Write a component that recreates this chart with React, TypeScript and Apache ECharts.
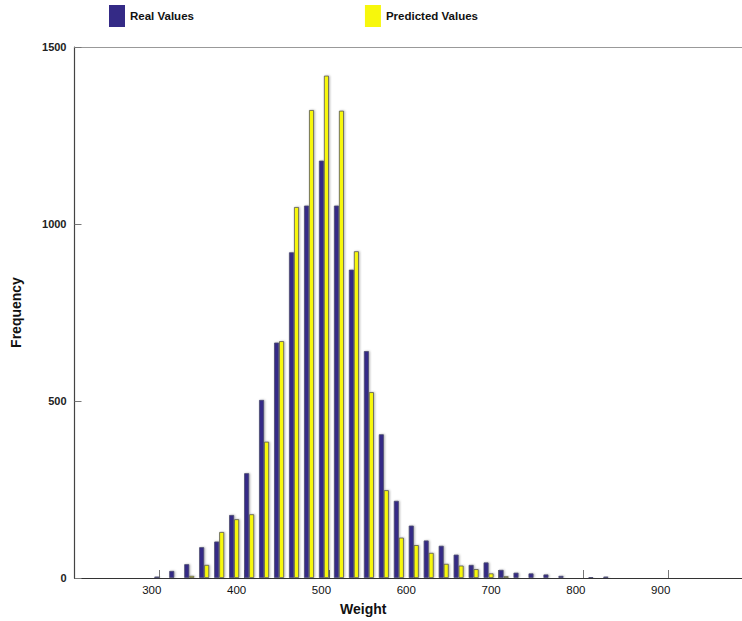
import React, { useEffect, useRef } from "react";
import * as echarts from "echarts";

// Histogram bin centres (weight) and counts per bin
const binCenters = [
  300, 317.6, 335.3, 352.9, 370.6, 388.2, 405.9, 423.5, 441.2, 458.8, 476.5, 494.1,
  511.8, 529.4, 547.1, 564.7, 582.4, 600, 617.6, 635.3, 652.9, 670.6, 688.2, 705.9,
  723.5, 741.2, 758.8, 776.5, 794.1, 811.8, 829.4, 847.1, 864.7, 882.4, 900,
];
const realCounts = [
  4, 20, 39, 87, 103, 178, 296, 503, 665, 920, 1052, 1179, 1052, 871, 641, 406, 218,
  148, 106, 91, 66, 37, 44, 23, 15, 13, 10, 6, 2, 3, 4, 1, 1, 1, 1,
];
const predictedCounts = [
  1, 2, 6, 37, 130, 166, 180, 385, 669, 1048, 1322, 1419, 1320, 923, 525, 248, 114,
  93, 71, 40, 35, 25, 13, 5, 2, 1, 1, 1, 1, 1, 0, 1, 0, 1, 1,
];
const seriesNames = ["Real Values", "Predicted Values"];
const yTicks = [0, 500, 1000, 1500];

const REAL_COLOR = "#342a86";
const PRED_COLOR = "#f7f70c";
const FONT = "'Liberation Sans', Arial, sans-serif";

export default function App() {
  const ref = useRef<HTMLDivElement>(null);

  useEffect(() => {
    document.body.style.margin = "0";
    if (!ref.current) return;
    const chart = echarts.init(ref.current, null, { renderer: "svg" });

    const barStyle = (color: string, border: string) => ({
      color,
      borderColor: border,
      borderWidth: 0.8,
      shadowColor: "rgba(0,0,0,0.3)",
      shadowBlur: 2,
      shadowOffsetX: 1,
    });

    chart.setOption({
      animation: false,
      backgroundColor: "#ffffff",
      legend: {
        left: 109,
        top: 5,
        padding: 0,
        itemWidth: 16,
        itemHeight: 22,
        itemGap: 171,
        icon: "rect",
        data: seriesNames,
        itemStyle: { borderWidth: 0, shadowBlur: 0, shadowOffsetX: 0 },
        textStyle: {
          fontFamily: FONT,
          fontWeight: "bold",
          fontSize: 11.5,
          color: "#111",
          padding: [0, 0, 0, 0],
        },
      },
      grid: { left: 74.5, right: 0, top: 47, bottom: 42, containLabel: false },
      xAxis: [
        {
          type: "value",
          min: 200,
          max: 987,
          interval: 100,
          name: "Weight",
          nameLocation: "middle",
          nameGap: 24,
          nameTextStyle: {
            fontFamily: FONT,
            fontWeight: "bold",
            fontSize: 14,
            color: "#111",
            padding: [0, 90, 0, 0],
          },
          axisLine: { show: true, onZero: false, lineStyle: { color: "#333", width: 1.2 } },
          axisTick: { show: true, inside: true, length: 8, lineStyle: { color: "#777" } },
          axisLabel: {
            showMinLabel: false,
            showMaxLabel: false,
            margin: 6,
            padding: [0, 15, 0, 0],
            fontFamily: FONT,
            fontSize: 11.5,
            color: "#111",
          },
          splitLine: { show: false },
        },
        {
          type: "value",
          position: "top",
          min: 200,
          max: 987,
          axisLine: { show: true, onZero: false, lineStyle: { color: "#999", width: 1 } },
          axisTick: { show: false },
          axisLabel: { show: false },
          splitLine: { show: false },
        },
      ],
      yAxis: {
        type: "value",
        min: yTicks[0],
        max: yTicks[yTicks.length - 1],
        interval: 500,
        name: "Frequency",
        nameLocation: "middle",
        nameGap: 52,
        nameRotate: 90,
        nameTextStyle: {
          fontFamily: FONT,
          fontWeight: "bold",
          fontSize: 14,
          color: "#111",
        },
        axisLine: { show: true, lineStyle: { color: "#444", width: 1.2 } },
        axisTick: { show: true, inside: true, length: 7, lineStyle: { color: "#777" } },
        axisLabel: {
          margin: 8,
          fontFamily: FONT,
          fontWeight: "bold",
          fontSize: 11,
          color: "#222",
          formatter: (v: number) => String(v),
        },
        splitLine: { show: false },
      },
      series: [
        {
          name: seriesNames[0],
          type: "bar",
          xAxisIndex: 0,
          barWidth: 5,
          barGap: "0%",
          itemStyle: barStyle(REAL_COLOR, "#4b4b6e"),
          data: binCenters.map((x, i) => [x, realCounts[i]]),
        },
        {
          name: seriesNames[1],
          type: "bar",
          xAxisIndex: 0,
          barWidth: 5,
          barGap: "0%",
          itemStyle: barStyle(PRED_COLOR, "#555"),
          data: binCenters.map((x, i) => [x, predictedCounts[i]]),
        },
      ],
    });

    return () => chart.dispose();
  }, []);

  return <div ref={ref} style={{ width: 742, height: 621 }} />;
}
